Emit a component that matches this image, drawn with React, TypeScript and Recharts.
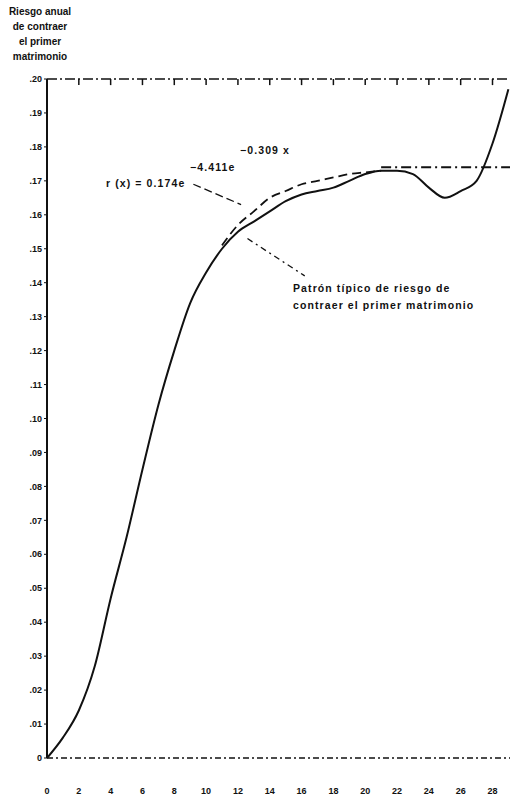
import React from "react";
import {
  LineChart,
  Line,
  XAxis,
  YAxis,
  ReferenceLine,
} from "recharts";

// age (years after start of exposure) on the x axis
const ages = [0, 1, 2, 3, 4, 5, 6, 7, 8, 9, 10, 11, 12, 13, 14, 15, 16, 17, 18, 19, 20, 21, 22, 23, 24, 25, 26, 27, 28, 29];

// observed annual risk of first marriage (solid)
const observed = [0, 0.006, 0.014, 0.027, 0.047, 0.065, 0.085, 0.104, 0.12, 0.134, 0.143, 0.15, 0.155, 0.158, 0.161, 0.164, 0.166, 0.167, 0.168, 0.17, 0.172, 0.173, 0.173, 0.172, 0.168, 0.165, 0.167, 0.17, 0.181, 0.197];

// fitted typical pattern (dashed), only drawn where it leaves the observed curve
const modelAges = [11, 12, 13, 14, 15, 16, 17, 18, 19, 20, 21];
const modelValues = [0.151, 0.157, 0.161, 0.165, 0.167, 0.169, 0.17, 0.171, 0.172, 0.1725, 0.173];

// asymptote of the fitted curve
const asymptoteAges = [21, 29.1];
const asymptote = 0.174;

const xTicks = [0, 2, 4, 6, 8, 10, 12, 14, 16, 18, 20, 22, 24, 26, 28];
const yTicks = [0, 0.01, 0.02, 0.03, 0.04, 0.05, 0.06, 0.07, 0.08, 0.09, 0.1, 0.11, 0.12, 0.13, 0.14, 0.15, 0.16, 0.17, 0.18, 0.19, 0.2];
const yMax = 0.2;

const data = ages.map((a, i) => {
  const m = modelAges.indexOf(a);
  return { age: a, observed: observed[i], model: m >= 0 ? modelValues[m] : null };
});
const asymData = asymptoteAges.map((a) => ({ age: a, asym: asymptote }));

const font = "'Liberation Sans', Arial, sans-serif";
const ink = "#111";

const fmtY = (v: number) => (v === 0 ? "0" : "." + Math.round(v * 100).toString().padStart(2, "0"));

const txt: React.CSSProperties = {
  position: "absolute",
  fontFamily: font,
  fontSize: 10,
  fontWeight: 700,
  color: ink,
  whiteSpace: "nowrap",
  lineHeight: "15px",
};

const note: React.CSSProperties = { ...txt, fontSize: 10.5, letterSpacing: 1.1, lineHeight: "17px" };

function RightDot(props: any) {
  const { x, y } = props;
  return <circle cx={x - 8} cy={y} r={1} fill={ink} />;
}

export default function App() {
  return (
    <div style={{ position: "absolute", left: 0, top: 0, width: 521, height: 808, background: "#fff" }}>
      <LineChart
        width={521}
        height={808}
        data={data}
        margin={{ top: 79, right: 0, bottom: 0, left: 0 }}
      >
        <XAxis
          dataKey="age"
          type="number"
          domain={[0, 29.1]}
          ticks={xTicks}
          allowDataOverflow
          height={50}
          axisLine={{ stroke: ink, strokeWidth: 1.5, strokeDasharray: "6 3 2 3" }}
          tickLine={false}
          tickMargin={24}
          tick={{ fontSize: 9, fontFamily: font, fontWeight: 700, fill: ink }}
        />
        <YAxis
          type="number"
          domain={[0, yMax]}
          ticks={yTicks}
          width={47}
          axisLine={{ stroke: ink, strokeWidth: 2 }}
          tickLine={{ stroke: ink }}
          tickSize={3}
          tickFormatter={fmtY}
          tick={{ fontSize: 9, fontFamily: font, fontWeight: 700, fill: ink }}
        />
        <YAxis
          yAxisId="right"
          orientation="right"
          type="number"
          domain={[0, yMax]}
          ticks={yTicks}
          width={11}
          axisLine={false}
          tickLine={false}
          tick={<RightDot />}
        />
        {/* top frame with short ticks pointing down */}
        <ReferenceLine y={yMax} stroke={ink} strokeWidth={1.5} strokeDasharray="10 3 2 3" />
        {xTicks.map((t) => (
          <ReferenceLine
            key={t}
            segment={[{ x: t, y: yMax }, { x: t, y: yMax - 0.0018 }]}
            stroke={ink}
            strokeWidth={1.5}
          />
        ))}
        <ReferenceLine
          segment={[{ x: 9.2, y: 0.169 }, { x: 12.2, y: 0.163 }]}
          stroke={ink}
          strokeWidth={1.3}
          strokeDasharray="8 4"
        />
        <ReferenceLine
          segment={[{ x: 12.6, y: 0.153 }, { x: 16.2, y: 0.142 }]}
          stroke={ink}
          strokeWidth={1.3}
          strokeDasharray="6 4 2 4"
        />
        <Line
          type="monotone"
          dataKey="observed"
          stroke={ink}
          strokeWidth={2}
          dot={false}
          isAnimationActive={false}
        />
        <Line
          type="monotone"
          dataKey="model"
          stroke={ink}
          strokeWidth={1.8}
          strokeDasharray="9 5"
          dot={false}
          connectNulls={false}
          isAnimationActive={false}
        />
        <Line
          type="linear"
          data={asymData}
          dataKey="asym"
          stroke={ink}
          strokeWidth={1.8}
          strokeDasharray="10 4 2 4"
          dot={false}
          isAnimationActive={false}
        />
      </LineChart>

      <div style={{ ...txt, left: 4, top: 4, width: 72, textAlign: "center" }}>
        Riesgo anual
        <br />
        de contraer
        <br />
        el primer
        <br />
        matrimonio
      </div>

      <div style={{ ...note, left: 106, top: 175 }}>r (x) = 0.174e</div>
      <div style={{ ...note, left: 190, top: 159 }}>−4.411e</div>
      <div style={{ ...note, left: 240, top: 142 }}>−0.309 x</div>

      <div style={{ ...note, left: 293, top: 280 }}>
        Patrón típico de riesgo de
        <br />
        contraer el primer matrimonio
      </div>
    </div>
  );
}
